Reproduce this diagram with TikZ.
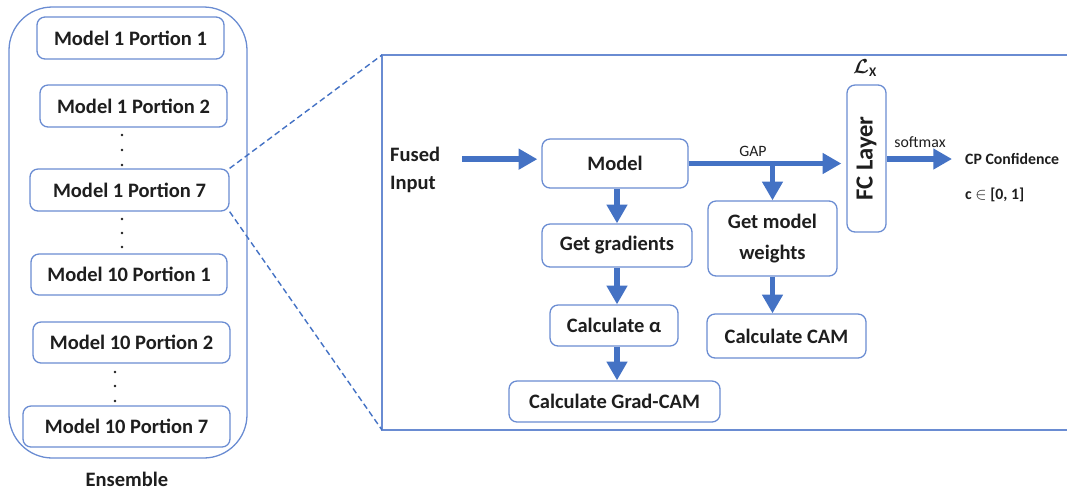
\documentclass[tikz,border=0pt]{standalone}
\usepackage{fontspec}
\setmainfont{Carlito}
\usetikzlibrary{arrows.meta}
\definecolor{boxc}{HTML}{6A8CD2}
\definecolor{arrc}{HTML}{4472C4}
\definecolor{txtc}{HTML}{1E1E1E}
\tikzset{
  bx/.style n args={2}{draw=boxc, line width=1.1pt, rounded corners=0.24cm, fill=white,
    minimum width=#1*0.03cm, minimum height=#2*0.03cm, inner sep=0pt, align=center,
    text=txtc, font=\fontsize{17.5}{24}\selectfont\bfseries},
  lbl/.style={text=txtc, inner sep=0pt, font=\fontsize{17.5}{24}\selectfont\bfseries},
  small/.style={text=txtc, inner sep=0pt, font=\fontsize{13.5}{16}\selectfont},
  arr/.style={draw=arrc, line width=4.8pt, -{Triangle[length=16pt, width=17pt]}},
  dsh/.style={draw=arrc, line width=1.2pt, dash pattern=on 5pt off 3pt},
  dotc/.style={fill=txtc, circle, inner sep=0pt, minimum size=2.2pt},
}
\begin{document}
\begin{tikzpicture}[x=0.03cm, y=-0.03cm]
\useasboundingbox (0,0) rectangle (1067,492);
% Ensemble column
\node[draw=boxc, line width=1.1pt, rounded corners=1.3cm, minimum width=238*0.03cm, minimum height=451*0.03cm, inner sep=0pt] (ens) at (128,232.5) {};
\node[bx={187}{42}] (m11) at (130.5,38) {Model 1 Portion 1};
\node[bx={187}{42}] (m12) at (133.5,106) {Model 1 Portion 2};
\node[bx={199}{42}] (m17) at (129.5,190) {Model 1 Portion 7};
\node[bx={196}{41}] (m101) at (129,274.5) {Model 10 Portion 1};
\node[bx={197}{41}] (m102) at (131.5,342.5) {Model 10 Portion 2};
\node[bx={207}{41}] (m107) at (126.5,426.5) {Model 10 Portion 7};
\node[lbl] (enslbl) at (127,479) {Ensemble};
\foreach \yy [count=\i] in {135,150,165} \node[dotc] (da\i) at (122,\yy) {};
\foreach \yy [count=\i] in {219,233,247} \node[dotc] (db\i) at (122,\yy) {};
\foreach \yy [count=\i] in {372,386,401} \node[dotc] (dc\i) at (115,\yy) {};
% detail frame
\coordinate (ftl) at (382,55);
\coordinate (fbl) at (382,430);
\coordinate (ftr) at (1067,55);
\coordinate (fbr) at (1067,430);
\draw[draw=boxc, line width=1.4pt] (ftr) -- (ftl) -- (fbl) -- (fbr);
\draw[dsh] (m17.north east) -- (ftl);
\draw[dsh] (m17.south east) -- (fbl);
% flow
\node[lbl, align=left, anchor=west] (fused) at (390,170) {Fused\\Input};
\node[bx={146}{49}] (model) at (615,163.5) {Model};
\node[bx={150}{43}] (grad) at (617,245.5) {Get gradients};
\node[bx={128}{41}] (alpha) at (614,325.5) {Calculate α};
\node[bx={211}{41}] (gcam) at (614.5,401.5) {Calculate Grad-CAM};
\node[bx={129}{75}, font=\fontsize{17.5}{26}\selectfont\bfseries] (wts) at (772.5,238.5) {Get model\\weights};
\node[bx={159}{44}] (cam) at (786.5,336) {Calculate CAM};
\node[bx={39}{147}, font=\fontsize{21}{24}\selectfont\bfseries] (fc) at (866.5,158.5) {\rotatebox{90}{FC Layer}};
\node[text=txtc, inner sep=0pt, font=\fontsize{16}{18}\selectfont\boldmath] (lx) at (865,68) {$\mathcal{L}_{\mathrm{X}}$};
\node[small, anchor=west, font=\fontsize{13.5}{16}\selectfont\bfseries] (cp) at (965,159) {CP Confidence};
\node[small, anchor=west, font=\fontsize{13.5}{16}\selectfont\bfseries] (cval) at (965,195) {c $\in$ [0, 1]};
\node[small] (gap) at (753,151) {GAP};
\node[small] (smax) at (920,142) {softmax};
% arrows
\draw[arr, shorten <=0.66cm, shorten >=0.12cm] ([yshift=0.13cm]fused.east |- model.west) -- ([yshift=0.13cm]model.west);
\draw[arr, shorten >=0.15cm] (model.east) -- (fc.west |- model.east);
\draw[arr] (wts.north |- model.east) -- (wts.north);
\draw[arr] (wts.south) -- (wts.south |- cam.north);
\draw[arr] (grad.north |- model.south) -- (grad.north);
\draw[arr] (grad.south) -- (grad.south |- alpha.north);
\draw[arr] (grad.south |- alpha.south) -- (grad.south |- gcam.north);
\draw[arr, shorten >=0.39cm] (fc.east |- cp.west) -- (cp.west);
\end{tikzpicture}
\end{document}
